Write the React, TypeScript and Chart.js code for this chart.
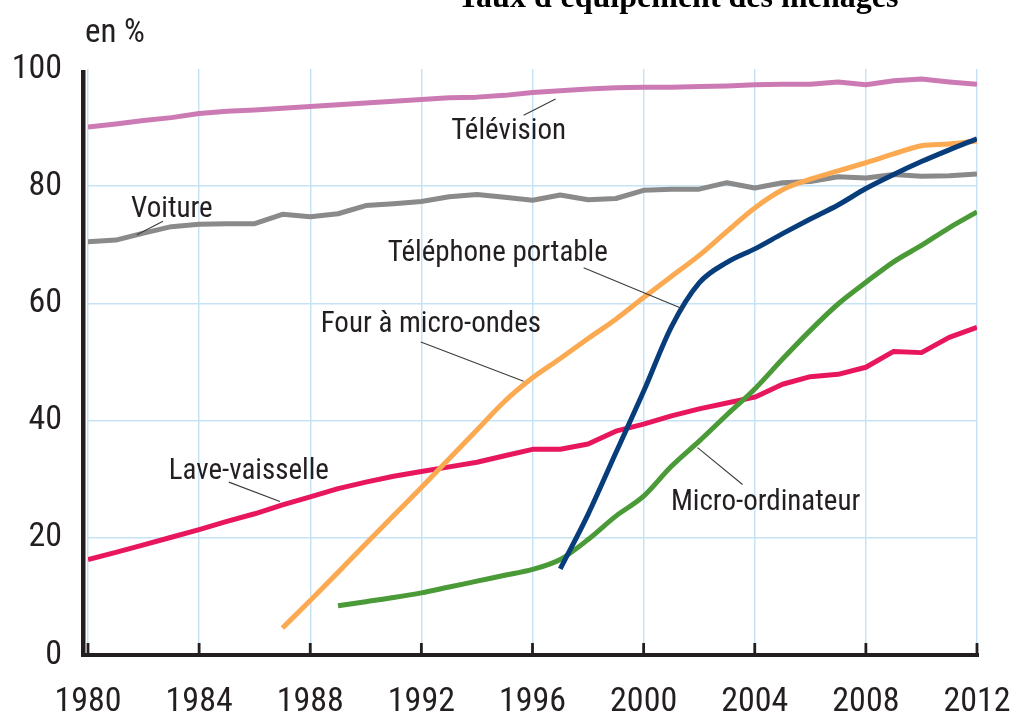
import React, { useEffect, useRef } from "react";
import { Chart, registerables } from "chart.js";

Chart.register(...registerables);

const years = [
  1980, 1981, 1982, 1983, 1984, 1985, 1986, 1987, 1988, 1989,
  1990, 1991, 1992, 1993, 1994, 1995, 1996, 1997, 1998, 1999,
  2000, 2001, 2002, 2003, 2004, 2005, 2006, 2007, 2008, 2009,
  2010, 2011, 2012,
];

const television = [
  90.1, 90.6, 91.2, 91.7, 92.4, 92.8, 93.0, 93.3, 93.6, 93.9,
  94.2, 94.5, 94.8, 95.1, 95.2, 95.5, 96.0, 96.3, 96.6, 96.8,
  96.9, 96.9, 97.0, 97.1, 97.3, 97.4, 97.4, 97.8, 97.3, 98.0,
  98.3, 97.8, 97.4,
];

const voiture = [
  70.5, 70.8, 72.0, 73.1, 73.5, 73.6, 73.6, 75.2, 74.8, 75.3,
  76.7, 77.0, 77.4, 78.2, 78.6, 78.1, 77.6, 78.5, 77.7, 77.9,
  79.3, 79.5, 79.5, 80.6, 79.7, 80.6, 80.8, 81.6, 81.4, 82.0,
  81.7, 81.8, 82.1,
];

const laveVaisselle = [
  16.3, 17.5, 18.8, 20.1, 21.4, 22.8, 24.1, 25.6, 27.0, 28.4,
  29.5, 30.5, 31.3, 32.1, 32.9, 34.0, 35.1, 35.1, 36.0, 38.2,
  39.4, 40.8, 42.0, 43.0, 44.0, 46.2, 47.5, 47.9, 49.1, 51.8,
  51.6, 54.2, 55.9,
];

const fourMicroOndes = [
  null, null, null, null, null, null, null, 4.6, 9.3, 14.1,
  19.0, 23.8, 28.6, 33.5, 38.4, 43.3, 47.3, 50.6, 54.0, 57.3,
  61.0, 64.6, 68.2, 72.3, 76.3, 79.4, 81.2, 82.6, 84.0, 85.5,
  86.9, 87.2, 87.7,
];

const telephonePortable = [
  null, null, null, null, null, null, null, null, null, null,
  null, null, null, null, null, null, null, 14.7, 24.0, 34.5,
  45.0, 56.0, 63.5, 67.0, 69.3, 71.9, 74.4, 76.8, 79.6, 82.0,
  84.2, 86.2, 88.1,
];

const microOrdinateur = [
  null, null, null, null, null, null, null, null, null, 8.4,
  9.1, 9.8, 10.6, 11.6, 12.6, 13.6, 14.6, 16.3, 19.7, 23.7,
  27.1, 32.2, 36.5, 41.0, 45.4, 50.5, 55.4, 59.9, 63.6, 67.1,
  69.9, 72.9, 75.6,
];

const xTicks = [1980, 1984, 1988, 1992, 1996, 2000, 2004, 2008, 2012];
const yTicks = [0, 20, 40, 60, 80, 100];

const title = "Taux d'équipement des ménages";
const unitLabel = "en %";

// Annotation labels: text, baseline-centre position (year, %), leader line from/to (year, %)
const labelTexts = ["Télévision", "Voiture", "Téléphone portable", "Four à micro-ondes", "Lave-vaisselle", "Micro-ordinateur"];
const labelYears = [1995.14, 1983.02, 1994.75, 1992.34, 1985.79, 2004.39];
const labelValues = [88.0, 74.8, 67.3, 55.1, 30.0, 24.8];
const leaderFromYears = [1995.68, 1982.7, 1997.84, 1991.98, 1985.07, 2003.56];
const leaderFromValues = [92.1, 74.0, 66.1, 53.4, 29.5, 29.1];
const leaderToYears = [1996.83, 1981.76, 2001.4, 1995.68, 1986.91, 2001.94];
const leaderToValues = [94.9, 71.7, 59.1, 46.7, 26.2, 35.4];

const NARROW = '"Roboto Condensed", "DejaVu Sans Condensed", sans-serif';
const TEXT = "#231f20";
const GRID = "#c6e3f6";

const toPoints = (arr: (number | null)[]) => years.map((yr, i) => ({ x: yr, y: arr[i] }));

const overlayPlugin = {
  id: "overlay",
  afterDatasetsDraw(chart: any) {
    const { ctx, chartArea, scales } = chart;
    const xs = scales.x;
    const ys = scales.y;
    ctx.save();
    // leader lines
    ctx.strokeStyle = "#3c3c3c";
    ctx.lineWidth = 1.1;
    for (let i = 0; i < labelTexts.length; i++) {
      ctx.beginPath();
      ctx.moveTo(xs.getPixelForValue(leaderFromYears[i]), ys.getPixelForValue(leaderFromValues[i]));
      ctx.lineTo(xs.getPixelForValue(leaderToYears[i]), ys.getPixelForValue(leaderToValues[i]));
      ctx.stroke();
    }
    // labels
    ctx.fillStyle = TEXT;
    ctx.font = "29px " + NARROW;
    ctx.textAlign = "center";
    ctx.textBaseline = "alphabetic";
    for (let i = 0; i < labelTexts.length; i++) {
      ctx.fillText(labelTexts[i], xs.getPixelForValue(labelYears[i]), ys.getPixelForValue(labelValues[i]));
    }
    // axes
    ctx.fillStyle = TEXT;
    ctx.fillRect(chartArea.left - 7, chartArea.top + 1, 4.5, chartArea.bottom - chartArea.top + 1);
    ctx.fillRect(chartArea.left - 7, chartArea.bottom - 2, chartArea.right - chartArea.left + 9, 4);
    for (const t of xTicks) {
      const px = xs.getPixelForValue(t);
      ctx.fillRect(px - 1.4, chartArea.bottom - 12, 2.8, 12);
    }
    ctx.restore();
  },
  afterDraw(chart: any) {
    const { ctx } = chart;
    ctx.save();
    ctx.fillStyle = "#000";
    ctx.font = 'bold 32px "Liberation Serif", "Times New Roman", serif';
    ctx.textAlign = "center";
    ctx.textBaseline = "alphabetic";
    ctx.fillText(title, 678, 7);
    ctx.fillStyle = TEXT;
    ctx.font = "33px " + NARROW;
    ctx.textAlign = "left";
    ctx.fillText(unitLabel, 85, 42);
    ctx.restore();
  },
};

export default function App() {
  const canvasRef = useRef<HTMLCanvasElement | null>(null);

  useEffect(() => {
    if (!canvasRef.current) return;
    const common = { fill: false, pointRadius: 0, borderWidth: 5, borderJoinStyle: "round" as const, borderCapStyle: "butt" as const };
    const chart = new Chart(canvasRef.current, {
      type: "line",
      data: {
        datasets: [
          { ...common, label: "Téléphone portable", data: toPoints(telephonePortable), borderColor: "#083d7c", cubicInterpolationMode: "monotone" },
          { ...common, label: "Four à micro-ondes", data: toPoints(fourMicroOndes), borderColor: "#fbaa52", cubicInterpolationMode: "monotone" },
          { ...common, label: "Micro-ordinateur", data: toPoints(microOrdinateur), borderColor: "#4a9a38", cubicInterpolationMode: "monotone" },
          { ...common, label: "Lave-vaisselle", data: toPoints(laveVaisselle), borderColor: "#e8175d", tension: 0 },
          { ...common, label: "Voiture", data: toPoints(voiture), borderColor: "#8a8a8a", tension: 0 },
          { ...common, label: "Télévision", data: toPoints(television), borderColor: "#cc7ab4", tension: 0 },
        ] as any,
      },
      options: {
        animation: false,
        responsive: false,
        maintainAspectRatio: false,
        layout: { padding: { top: 69, right: 39, left: 0, bottom: 0 } },
        plugins: { legend: { display: false }, tooltip: { enabled: false }, title: { display: false } },
        scales: {
          x: {
            type: "linear",
            min: 1980,
            max: 2012,
            afterBuildTicks: (scale: any) => {
              scale.ticks = xTicks.map((v) => ({ value: v }));
            },
            afterFit: (scale: any) => {
              scale.height = 61;
              scale.paddingLeft = 0;
              scale.paddingRight = 0;
            },
            border: { display: false },
            grid: { color: GRID, lineWidth: 1.5, drawTicks: false },
            ticks: {
              padding: 27,
              color: TEXT,
              font: { family: NARROW, size: 34 },
              maxRotation: 0,
              autoSkip: false,
              callback: (v: any) => String(v),
            },
          },
          y: {
            type: "linear",
            min: 0,
            max: 100,
            afterBuildTicks: (scale: any) => {
              scale.ticks = yTicks.map((v) => ({ value: v }));
            },
            afterFit: (scale: any) => {
              scale.width = 88;
              scale.paddingTop = 0;
              scale.paddingBottom = 0;
            },
            border: { display: false },
            grid: {
              color: (c: any) => (c.tick && (c.tick.value === 100 || c.tick.value === 0) ? "rgba(0,0,0,0)" : GRID),
              lineWidth: 1.5,
              drawTicks: false,
            },
            ticks: {
              padding: 26,
              color: TEXT,
              font: { family: NARROW, size: 34 },
              callback: (v: any) => String(v),
            },
          },
        },
      },
      plugins: [overlayPlugin],
    });
    return () => chart.destroy();
  }, []);

  return (
    <div style={{ position: "fixed", left: 0, top: 0, width: 1016, height: 716, background: "#fff" }}>
      <canvas ref={canvasRef} width={1016} height={716} style={{ display: "block" }} />
    </div>
  );
}
